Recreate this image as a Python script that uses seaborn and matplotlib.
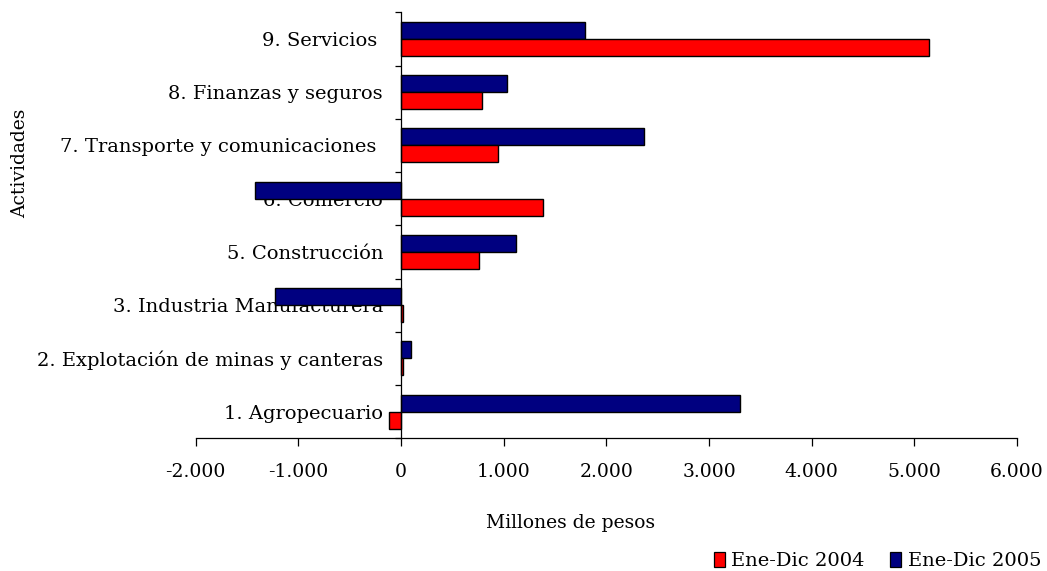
import matplotlib
matplotlib.use("Agg")
import matplotlib.pyplot as plt
import matplotlib.patches as mpatches
from matplotlib.ticker import FuncFormatter, FixedLocator
import seaborn as sns
import pandas as pd

categories = [
    "9. Servicios ",
    "8. Finanzas y seguros",
    "7. Transporte y comunicaciones ",
    "6. Comercio",
    "5. Construcción",
    "3. Industria Manufacturera",
    "2. Explotación de minas y canteras",
    "1. Agropecuario",
]
series_names = ["Ene-Dic 2004", "Ene-Dic 2005"]
values_2004 = [5146, 790, 945, 1380, 763, 20, 15, -120]
values_2005 = [1790, 1035, 2365, -1420, 1117, -1227, 95, 3300]
x_ticks = [-2000, -1000, 0, 1000, 2000, 3000, 4000, 5000, 6000]
colors = {"Ene-Dic 2004": "#FF0000", "Ene-Dic 2005": "#000080"}

df = pd.DataFrame({
    "Actividad": categories * 2,
    "Serie": [series_names[0]] * len(categories) + [series_names[1]] * len(categories),
    "Valor": values_2004 + values_2005,
})

sns.set_style("white")
plt.rcParams["font.family"] = ["DejaVu Serif"]
plt.rcParams["text.color"] = "black"
plt.rcParams["xtick.color"] = "black"
plt.rcParams["ytick.color"] = "black"
plt.rcParams["axes.labelcolor"] = "black"

fig = plt.figure(figsize=(10.47, 5.71), dpi=100)
ax = fig.add_axes([0.187, 0.2324, 0.7843, 0.7461])

sns.barplot(data=df, y="Actividad", x="Valor", hue="Serie", order=categories,
            hue_order=[series_names[1], series_names[0]], palette=colors,
            saturation=1, orient="h", width=0.64, edgecolor="black", linewidth=1.0,
            legend=False, ax=ax, errorbar=None)

ax.set_xlim(x_ticks[0], x_ticks[-1])
ax.set_ylim(len(categories) - 0.5, -0.5)
ax.set_xticks(x_ticks)
ax.xaxis.set_major_formatter(FuncFormatter(lambda v, p: f"{int(v):,}".replace(",", ".")))
ax.tick_params(axis="x", bottom=True, direction="out", length=5.5, width=0.9,
               color="black", labelcolor="black", labelsize=13.5, pad=12)

# vertical axis crosses at zero, ticks at category boundaries
ax.spines["left"].set_position(("data", 0))
ax.spines["left"].set_color("black")
ax.spines["left"].set_linewidth(0.9)
ax.spines["bottom"].set_color("black")
ax.spines["bottom"].set_linewidth(0.9)
ax.spines["top"].set_visible(False)
ax.spines["right"].set_visible(False)

ax.yaxis.set_major_locator(FixedLocator([i - 0.5 for i in range(len(categories) + 1)]))
ax.yaxis.set_minor_locator(FixedLocator(list(range(len(categories)))))
ax.set_yticklabels([""] * (len(categories) + 1))
ax.set_yticklabels(categories, minor=True)
ax.tick_params(axis="y", which="major", left=True, right=False, direction="out",
               length=4, width=0.9, color="black")
ax.tick_params(axis="y", which="minor", left=False, right=False, length=0, width=0,
               labelleft=True, labelsize=14, pad=13, labelcolor="black")

ax.set_ylabel("")
ax.set_xlabel("")
fig.text(571 / 1047, 1 - 523 / 571, "Millones de pesos", ha="center", va="center",
         fontsize=13.5)
fig.text(20 / 1047, 1 - 163 / 571, "Actividades", rotation=90, ha="center", va="center",
         fontsize=13.5)

handles = [mpatches.Patch(facecolor=colors[n], edgecolor="black", linewidth=0.9) for n in series_names]
fig.legend(handles, series_names, loc="lower right", bbox_to_anchor=(1.0, -0.009), ncol=2,
           frameon=False, fontsize=14, handlelength=0.55, handleheight=0.75,
           handletextpad=0.35, columnspacing=1.3, borderaxespad=0.1, borderpad=0.2)

fig.savefig("out.png", dpi=100)
